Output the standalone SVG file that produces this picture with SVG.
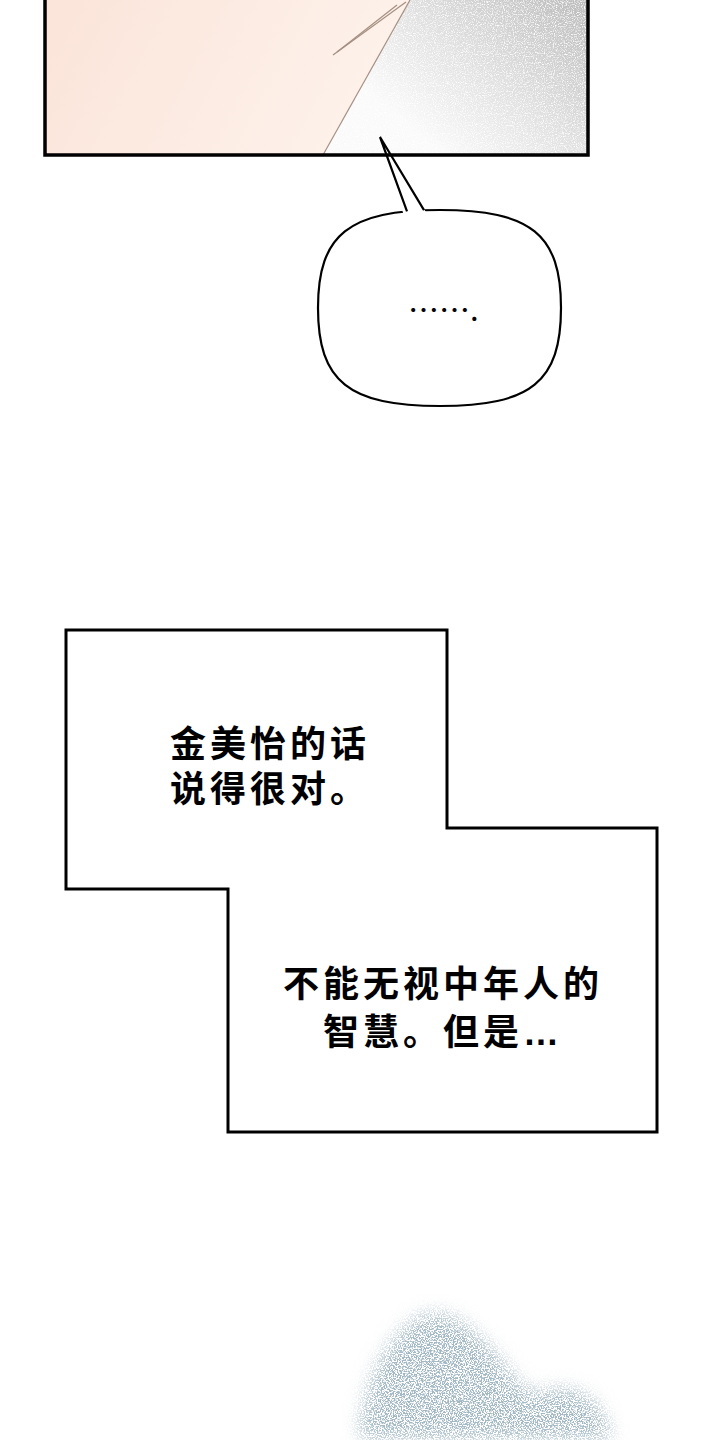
<svg xmlns="http://www.w3.org/2000/svg" width="720" height="1440" viewBox="0 0 720 1440">
<defs>
<style>
.frame{fill:none;stroke:#000;stroke-width:3.5;stroke-linejoin:miter}
.box{fill:#fff;stroke:#000;stroke-width:3;stroke-linejoin:miter}
.bubble{fill:#fff;stroke:#000;stroke-width:2.2}
.tailline{fill:none;stroke:#000;stroke-width:2.2;stroke-linejoin:miter}
.tan{fill:none;stroke:#a58f82;stroke-width:1.2}
.cap{font-family:"Noto Sans CJK SC","Noto Sans",sans-serif;font-size:36px;font-weight:700;fill:#000;letter-spacing:4px}
.ell{font-family:"Liberation Sans","Noto Sans",sans-serif;font-weight:700;letter-spacing:0}
.dots{font-family:"Noto Sans CJK SC","Noto Sans",sans-serif;font-size:31px;fill:#000}
</style>
<linearGradient id="peach" gradientUnits="userSpaceOnUse" x1="45" y1="0" x2="330" y2="155">
<stop offset="0" stop-color="#fbe4d9"/>
<stop offset="1" stop-color="#fdf1ea"/>
</linearGradient>
<linearGradient id="grey" gradientUnits="userSpaceOnUse" x1="580" y1="0" x2="450" y2="160">
<stop offset="0" stop-color="#bcbcbc"/>
<stop offset="0.55" stop-color="#e0e0e0"/>
<stop offset="1" stop-color="#fafafa"/>
</linearGradient>
<filter id="grain" filterUnits="userSpaceOnUse" x="300" y="0" width="300" height="160">
<feTurbulence type="fractalNoise" baseFrequency="0.9" numOctaves="2" seed="5" result="n"/>
<feColorMatrix in="n" type="matrix" values="0 0 0 0 1  0 0 0 0 1  0 0 0 0 1  3 0 0 0 -1.4" result="w"/>
<feComposite in="w" in2="SourceGraphic" operator="in" result="wi"/>
<feMerge><feMergeNode in="SourceGraphic"/><feMergeNode in="wi"/></feMerge>
</filter>
<filter id="sparkle" filterUnits="userSpaceOnUse" x="320" y="1270" width="330" height="170">
<feGaussianBlur in="SourceGraphic" stdDeviation="9" result="blob"/>
<feTurbulence type="fractalNoise" baseFrequency="0.75" numOctaves="3" seed="7" result="n"/>
<feColorMatrix in="n" type="matrix" values="0 0 0 0 0.36  0 0 0 0 0.48  0 0 0 0 0.56  9 0 0 0 -4.0" result="sp"/>
<feComposite in="sp" in2="blob" operator="in"/>
</filter>
</defs>
<rect width="720" height="1440" fill="#fff"/>

<g id="top-panel">
<polygon points="45,0 410,0 323,155 45,155" fill="url(#peach)"/>
<polygon points="410,0 588,0 588,155 323,155" fill="url(#grey)" filter="url(#grain)"/>
<line class="tan" x1="410" y1="0" x2="323" y2="155"/>
<line class="tan" x1="406" y1="2" x2="333" y2="55"/>
<line class="tan" x1="397" y1="5" x2="337" y2="52"/>
</g>

<g id="speech-bubble">
<path class="bubble" d="M318,308 C318,234.5 349,210 440,210 C531,210 561,234.5 561,308 C561,381.5 531,406 440,406 C349,406 318,381.5 318,308 Z"/>
<polygon points="404,216 380,137 427,214" fill="#fff"/>
<polyline class="tailline" points="407,211.3 380,137 424,210.1"/>
<text class="dots" x="408" y="321">…….</text>
</g>

<path class="frame" d="M45,0 V155 H588 V0"/>

<g id="caption-box">
<polygon class="box" points="66,630 447,630 447,828 657,828 657,1132 228,1132 228,889 66,889"/>
<text class="cap" x="170" y="757">金美怡的话</text>
<text class="cap" x="170" y="802">说得很对。</text>
<text class="cap" x="283" y="997">不能无视中年人的</text>
<text class="cap" x="323" y="1045">智慧。但是<tspan class="ell">…</tspan></text>
</g>

<g id="sparkle">
<path filter="url(#sparkle)" fill="#000" d="M360,1440 C360,1410 370,1372 390,1345 C403,1327 418,1312 438,1313 C460,1316 478,1334 496,1354 C510,1370 520,1388 535,1394 C552,1386 575,1386 592,1400 C604,1412 610,1428 612,1440 Z"/>
</g>
</svg>
